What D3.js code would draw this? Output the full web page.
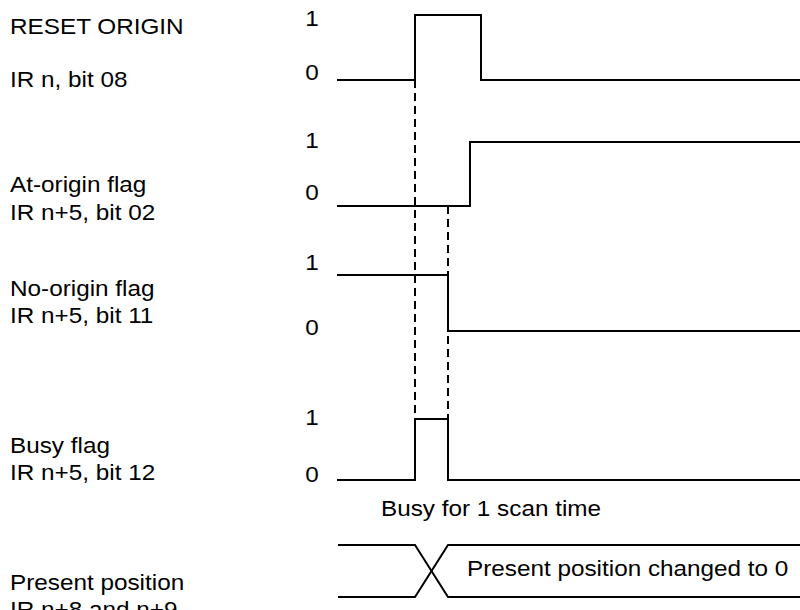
<!DOCTYPE html>
<html>
<head>
<meta charset="utf-8">
<script src="https://cdn.jsdelivr.net/npm/d3@7"></script>
<style>
  html, body { margin: 0; padding: 0; background: #fff; }
  svg { display: block; }
  text { font-family: "Liberation Sans", Arial, Helvetica, sans-serif; fill: #000; }
</style>
</head>
<body>
<svg id="chart" width="800" height="610"></svg>
<script>
// ---- DATA (time in scan sub-units, level 0/1) ----
const signalNames = ["RESET ORIGIN", "At-origin flag", "No-origin flag", "Busy flag"];
const signalSubNames = ["IR n, bit 08", "IR n+5, bit 02", "IR n+5, bit 11", "IR n+5, bit 12"];
const resetOrigin = [[0, 0], [7, 1], [13, 0], [42, 0]];
const atOrigin    = [[0, 0], [12, 1], [42, 1]];
const noOrigin    = [[0, 1], [10, 0], [42, 0]];
const busyFlag    = [[0, 0], [7, 1], [10, 0], [42, 0]];
const levelLabels = ["1", "0"];
const busName = ["Present position", "IR n+8 and n+9"];
const busChangeStart = 7;
const busChangeEnd = 10;
const busEnd = 42;
const busText = "Present position changed to 0";
const busyNote = "Busy for 1 scan time";
const markerTimes = [7, 10];

// ---- LAYOUT ----
const svg = d3.select("#chart");
const x = d3.scaleLinear().domain([0, 42]).range([338, 800]);
const rows = [
  { data: resetOrigin, hi: 15,  lo: 80,  lbl: [34, 87],   one: 26,  zero: 80 },
  { data: atOrigin,    hi: 142, lo: 206, lbl: [192, 220], one: 148, zero: 200 },
  { data: noOrigin,    hi: 275, lo: 331, lbl: [296, 323], one: 270, zero: 335 },
  { data: busyFlag,    hi: 419, lo: 480, lbl: [453, 480], one: 425, zero: 482 }
];
const fs = 22.5;
const sx = 1.08;

function addText(px, py, str, anchor) {
  svg.append("text")
    .attr("transform", `translate(${px},${py}) scale(${sx},1)`)
    .attr("font-size", fs)
    .attr("text-anchor", anchor || "start")
    .text(str);
}

// dashed markers
const dashDefs = [
  { t: markerTimes[0], from: rows[0].lo, to: rows[3].hi },
  { t: markerTimes[1], from: rows[1].lo, to: rows[3].hi }
];
svg.selectAll("line.dash").data(dashDefs).enter().append("line")
  .attr("class", "dash")
  .attr("x1", d => x(d.t)).attr("x2", d => x(d.t))
  .attr("y1", d => d.from).attr("y2", d => d.to)
  .attr("stroke", "#000").attr("stroke-width", 2)
  .attr("stroke-dasharray", "8,5");

rows.forEach((r, i) => {
  const y = d3.scaleLinear().domain([0, 1]).range([r.lo, r.hi]);
  const line = d3.line().x(d => x(d[0])).y(d => y(d[1])).curve(d3.curveStepAfter);
  svg.append("path").datum(r.data).attr("d", line)
    .attr("fill", "none").attr("stroke", "#000").attr("stroke-width", 2)
    .attr("stroke-linejoin", "miter").attr("stroke-linecap", "square");
  addText(10, r.lbl[0], signalNames[i]);
  addText(10, r.lbl[1], signalSubNames[i]);
  addText(312, r.one, levelLabels[0], "middle");
  addText(312, r.zero, levelLabels[1], "middle");
});

// busy note
addText(x(busChangeStart) - 34, 516, busyNote);

// bus
const busTop = 545, busBot = 597;
const bus = [
  [[0, busTop], [busChangeStart, busTop], [busChangeEnd, busBot], [busEnd, busBot]],
  [[0, busBot], [busChangeStart, busBot], [busChangeEnd, busTop], [busEnd, busTop]]
];
const busLine = d3.line().x(d => x(d[0])).y(d => d[1]);
svg.selectAll("path.bus").data(bus).enter().append("path")
  .attr("class", "bus").attr("d", busLine)
  .attr("fill", "none").attr("stroke", "#000").attr("stroke-width", 2);
addText(x(busChangeEnd) + 19, 576, busText);
addText(10, 590, busName[0]);
addText(10, 617, busName[1]);
</script>
</body>
</html>
